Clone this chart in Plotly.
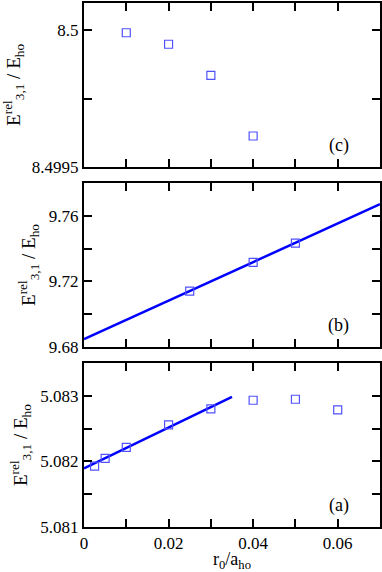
import plotly.graph_objects as go
from plotly.subplots import make_subplots

# panel (a)
r_a = [0.0025, 0.005, 0.01, 0.02, 0.03, 0.04, 0.05, 0.06]
e_a = [5.081930, 5.082046, 5.082214, 5.082557, 5.082802, 5.082934, 5.082949, 5.082787]
fit_a_x = [0.0, 0.035]
fit_a_y = [5.081893, 5.082986]

# panel (b)
r_b = [0.025, 0.04, 0.05]
e_b = [9.7141, 9.7316, 9.7434]
fit_b_x = [0.0, 0.07]
fit_b_y = [9.6847, 9.7671]

# panel (c)
r_c = [0.01, 0.02, 0.03, 0.04]
e_c = [8.499991, 8.499949, 8.499835, 8.499613]

x_ticks = [0, 0.01, 0.02, 0.03, 0.04, 0.05, 0.06, 0.07]
x_labels = ["0", "", "0.02", "", "0.04", "", "0.06", ""]
ya_ticks = [5.081, 5.0815, 5.082, 5.0825, 5.083]
ya_labels = ["5.081", "", "5.082", "", "5.083"]
yb_ticks = [9.68, 9.70, 9.72, 9.74, 9.76, 9.78]
yb_labels = ["9.68", "", "9.72", "", "9.76", ""]
yc_ticks = [8.4995, 8.49975, 8.5]
yc_labels = ["8.4995", "", "8.5"]

BLUE = "#0000ff"
MARK = "#5050ff"
FONT = "Liberation Serif, Times New Roman, serif"

fig = make_subplots(rows=3, cols=1, shared_xaxes=True, vertical_spacing=0.031)

sq = dict(symbol="square-open", size=8, color=MARK, line=dict(width=1.2))

fig.add_trace(go.Scatter(x=r_c, y=e_c, mode="markers", marker=sq), row=1, col=1)
fig.add_trace(go.Scatter(x=fit_b_x, y=fit_b_y, mode="lines", line=dict(color=BLUE, width=2.5)), row=2, col=1)
fig.add_trace(go.Scatter(x=r_b, y=e_b, mode="markers", marker=sq), row=2, col=1)
fig.add_trace(go.Scatter(x=fit_a_x, y=fit_a_y, mode="lines", line=dict(color=BLUE, width=2.5)), row=3, col=1)
fig.add_trace(go.Scatter(x=r_a, y=e_a, mode="markers", marker=sq), row=3, col=1)

ytitle = "E<sup>rel</sup><sub>3,1</sub> / E<sub>ho</sub>"

axis_common = dict(showline=True, linecolor="black", linewidth=2, mirror="ticks",
                   ticks="inside", ticklen=8, tickwidth=1.5, tickcolor="black",
                   showgrid=False, zeroline=False, automargin=False,
                   tickfont=dict(family=FONT, size=17, color="black"))

for r in (1, 2, 3):
    fig.update_xaxes(range=[0, 0.07], tickvals=x_ticks, ticktext=x_labels,
                     showticklabels=(r == 3), row=r, col=1, **axis_common)

fig.update_xaxes(title=dict(text="r<sub>0</sub>/a<sub>ho</sub>", standoff=0,
                            font=dict(family=FONT, size=18, color="black")), row=3, col=1)

yt = dict(text=ytitle, standoff=8, font=dict(family=FONT, size=19, color="black"))
fig.update_yaxes(range=[8.4995, 8.5001], tickvals=yc_ticks, ticktext=yc_labels, title=yt, row=1, col=1, **axis_common)
fig.update_yaxes(range=[9.68, 9.78], tickvals=yb_ticks, ticktext=yb_labels, title=yt, row=2, col=1, **axis_common)
fig.update_yaxes(range=[5.081, 5.0835], tickvals=ya_ticks, ticktext=ya_labels, title=yt, row=3, col=1, **axis_common)

for lab, n in (("(c)", ""), ("(b)", "2"), ("(a)", "3")):
    fig.add_annotation(text=lab, xref="x%s domain" % n, yref="y%s domain" % n, x=0.86, y=0.13,
                       xanchor="center", yanchor="middle",
                       showarrow=False, font=dict(family=FONT, size=18, color="black"))

fig.update_layout(width=382, height=572, showlegend=False,
                  paper_bgcolor="white", plot_bgcolor="white",
                  margin=dict(l=84, r=2, t=3, b=45))

# page body margin would push the 382x572 figure out of the window
fig.write_html("out.html", config={"displayModeBar": False},
               post_script="document.body.style.margin='0';")
